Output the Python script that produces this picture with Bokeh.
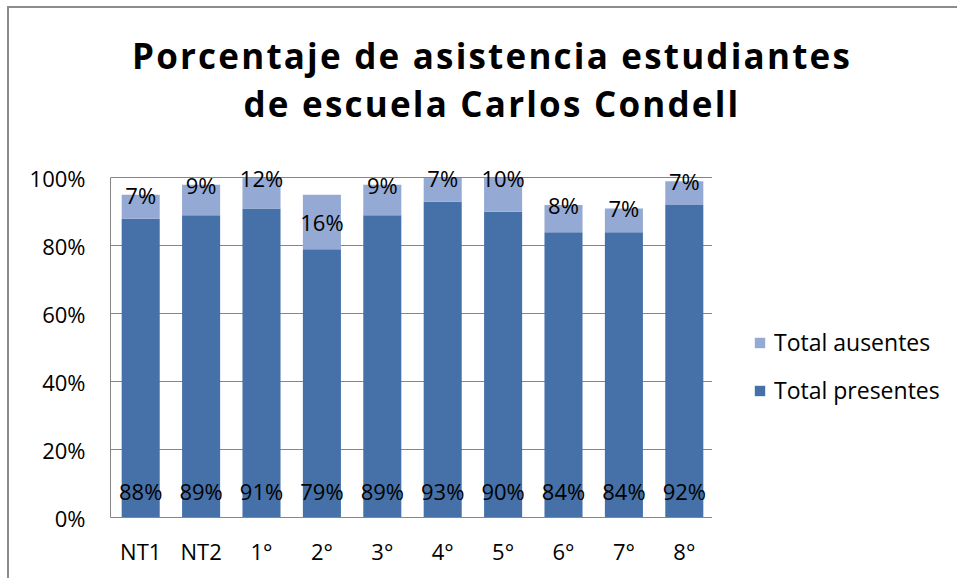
import numpy as np
from bokeh.plotting import figure
from bokeh.layouts import column, row
from bokeh.models import ColumnDataSource, Legend, LegendItem, Div, FixedTicker, FactorRange, Range1d
from bokeh.embed import file_html
from bokeh.resources import INLINE
from bokeh.core.properties import value

# ---- data ----
categorias = ["NT1", "NT2", "1°", "2°", "3°", "4°", "5°", "6°", "7°", "8°"]
presentes = [88, 89, 91, 79, 89, 93, 90, 84, 84, 92]
ausentes = [7, 9, 12, 16, 9, 7, 10, 8, 7, 7]
serie_presentes = "Total presentes"
serie_ausentes = "Total ausentes"
y_ticks = [0, 20, 40, 60, 80, 100]
y_tick_labels = ["0%", "20%", "40%", "60%", "80%", "100%"]
titulo_1 = "Porcentaje de asistencia estudiantes"
titulo_2 = "de escuela Carlos Condell"

# ---- derived ----
AX_MAX = 100
pre = np.array(presentes, dtype=float)
aus = np.array(ausentes, dtype=float)
tope = np.minimum(pre + aus, AX_MAX)
aus_label_y = np.where(aus >= 15, pre + aus / 2, tope)

src = ColumnDataSource(dict(
    cat=categorias, pre=pre, tope=tope,
    pre_lab=[f"{v}%" for v in presentes],
    aus_lab=[f"{v}%" for v in ausentes],
    aus_y=aus_label_y,
))

C_PRE = "#4571A8"
C_AUS = "#94A9D3"
GRID = "#868686"
FRAME = "2px solid #8c8c8c"
FONT = "Open Sans"

title_div = Div(
    text=f"{titulo_1}<br>{titulo_2}",
    width=950, height=132,
    margin=(6, 0, 0, 7),
    styles={"border-top": FRAME, "border-left": FRAME,
            "padding-left": "18px", "padding-top": "24px",
            "box-sizing": "border-box",
            "text-align": "center", "font-family": FONT, "font-weight": "bold",
            "font-size": "35px", "line-height": "48px", "letter-spacing": "2.2px",
            "color": "black", "background": "white"},
)

# ---- main chart ----
p = figure(
    x_range=FactorRange(*categorias, range_padding=0),
    y_range=Range1d(0, 106),
    width=705, height=440,
    min_border_left=101, min_border_right=0,
    min_border_top=19, min_border_bottom=61,
    output_backend="svg", toolbar_location=None,
    background_fill_color="white", border_fill_color="white",
    margin=(0, 0, 0, 7),
)
p.outline_line_color = None
p.styles = {"border-left": FRAME, "box-sizing": "border-box"}

r_pre = p.vbar(x="cat", top="pre", bottom=0, width=0.63, source=src,
               fill_color=C_PRE, line_color=None)
r_aus = p.vbar(x="cat", top="tope", bottom="pre", width=0.63, source=src,
               fill_color=C_AUS, line_color=None)

p.text(x="cat", y=0, text="pre_lab", source=src, y_offset=-27,
       text_align="center", text_baseline="middle",
       text_font=value(FONT), text_font_size="22px", text_color="black")
p.text(x="cat", y="aus_y", text="aus_lab", source=src,
       text_align="center", text_baseline="middle",
       text_font=value(FONT), text_font_size="22px", text_color="black")

p.yaxis.ticker = FixedTicker(ticks=y_ticks)
p.yaxis.major_label_overrides = {t: l for t, l in zip(y_ticks, y_tick_labels)}
p.yaxis.bounds = (0, AX_MAX)
for ax in (p.xaxis, p.yaxis):
    ax.axis_line_color = GRID
    ax.axis_line_width = 1
    ax.major_tick_line_color = None
    ax.minor_tick_line_color = None
    ax.major_label_text_font = FONT
    ax.major_label_text_font_size = "22px"
    ax.major_label_text_color = "black"
p.yaxis.major_label_standoff = 19
p.xaxis.major_label_standoff = 12
p.ygrid.grid_line_color = GRID
p.ygrid.ticker = FixedTicker(ticks=y_ticks)
p.xgrid.grid_line_color = None

# ---- legend panel (same series styles, shown beside the chart) ----
pl = figure(
    x_range=Range1d(0, 1), y_range=Range1d(0, 1),
    width=245, height=440, min_border=0,
    x_axis_location=None, y_axis_location=None,
    output_backend="svg", toolbar_location=None,
    background_fill_color="white", border_fill_color="white",
)
pl.outline_line_color = None
pl.xgrid.visible = False
pl.ygrid.visible = False
# zero-height proxy bars: only their styles are used, for the legend keys
proxy = ColumnDataSource(dict(x=[0.0], top=[0.0]))
l_aus = pl.vbar(x="x", top="top", bottom=0, width=0.0, source=proxy,
                fill_color=C_AUS, line_color=None)
l_pre = pl.vbar(x="x", top="top", bottom=0, width=0.0, source=proxy,
                fill_color=C_PRE, line_color=None)

legend = Legend(
    items=[LegendItem(label=serie_ausentes, renderers=[l_aus]),
           LegendItem(label=serie_presentes, renderers=[l_pre])],
    location=(41, 111),
    glyph_width=13, glyph_height=13, label_standoff=8,
    spacing=16, padding=0, margin=0,
    border_line_color=None, background_fill_alpha=0,
    label_text_font=FONT, label_text_font_size="23px", label_text_color="black",
)
pl.add_layout(legend, "center")

page = column(title_div, row(p, pl, spacing=0), spacing=0)
open("out.html", "w").write(file_html(page, INLINE))
